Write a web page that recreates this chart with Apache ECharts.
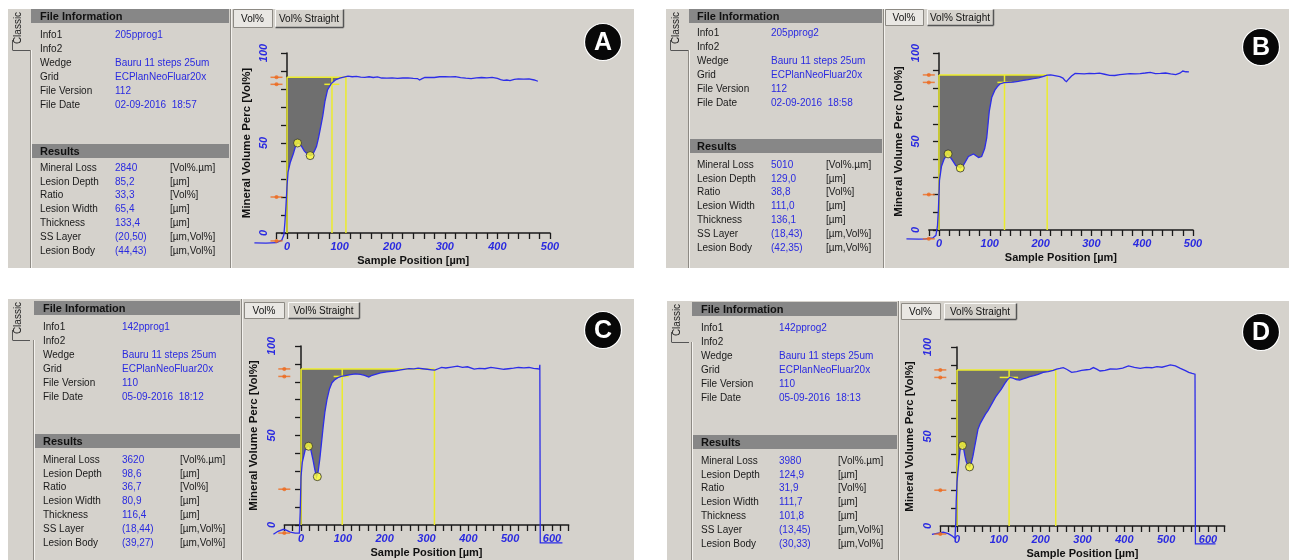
<!DOCTYPE html>
<html>
<head>
<meta charset="utf-8">
<title>Mineral volume profiles</title>
<script src="https://cdn.jsdelivr.net/npm/echarts@6/dist/echarts.min.js"></script>
<style>
  html, body { margin: 0; padding: 0; background: #fff; }
  #main { width: 1289px; height: 560px; }
</style>
</head>
<body>
<div id="main"></div>
<script>
// profiles: position [µm] / mineral volume [Vol%]
const posA = [-62, -40, -20, -10, -6, -4, -2, 0, 2, 6, 12, 16, 20, 24, 28, 33, 38, 44, 48, 52, 56, 60, 64, 68, 72, 77, 84, 92, 100, 108, 116, 124, 132, 140, 148, 156, 164, 172, 180, 190, 200, 210, 220, 230, 240, 248, 252, 256, 262, 270, 280, 290, 300, 310, 320, 330, 340, 350, 360, 370, 380, 390, 400, 406, 412, 418, 424, 432, 440, 450, 460, 470, 477]
const volA = [-5.5, -5.6, -5.4, -4, -1, 6, 15, 26, 34, 39, 44, 48, 50, 49.5, 48, 45.5, 44, 43, 43.5, 45.5, 48, 53, 59, 65, 73, 79.5, 83, 85, 86, 86.6, 87.2, 86.8, 87, 86.6, 86.5, 86.8, 86.4, 86.7, 86.1, 86, 86.2, 85.9, 86.1, 86.2, 85.9, 85.8, 85, 85.6, 86.4, 86.5, 86.4, 86.8, 86.9, 86.7, 86.9, 86.3, 86, 85.8, 86.2, 86.4, 86.2, 86.5, 85.9, 85.2, 84.8, 85, 84.7, 85.4, 85.6, 85.5, 85.6, 85, 84.3]

const posB = [-64, -40, -26, -12, -6, -3, -1, 1, 5, 10, 17, 25, 33, 42, 48, 58, 68, 78, 84, 90, 94, 99, 104, 110, 115, 120, 128, 136, 146, 156, 166, 176, 186, 196, 206, 213, 220, 228, 238, 244, 248, 251, 255, 261, 268, 276, 286, 296, 306, 316, 326, 336, 346, 356, 366, 376, 386, 396, 406, 416, 426, 436, 446, 456, 466, 474, 480, 486, 492]
const volB = [-5, -5.2, -5, -4.5, -3, 2, 12, 28, 36, 40, 43, 40, 36.5, 35, 36.5, 41.5, 43, 41, 41.5, 46, 52, 67, 75, 79, 81, 82.5, 83.3, 83.4, 83.6, 84, 84.5, 85, 85.5, 86, 86.8, 87.5, 87.6, 87.2, 86.6, 85.8, 84.5, 83.8, 85.2, 87, 88.5, 88.4, 88.2, 88.5, 88.3, 88.6, 88, 87.4, 87.3, 87.8, 88.1, 88.4, 88.2, 88.4, 88.7, 89.1, 88.4, 88.5, 88.7, 88.2, 87.8, 88.6, 89.8, 89.4, 89.3]

const posC = [-66, -55, -42, -34, -26, -14, -4, -2, 0, 3, 10, 17, 23, 29, 33, 37, 41, 45, 49, 53, 57, 62, 68, 74, 80, 88, 96, 106, 118, 130, 142, 152, 158, 162, 168, 178, 190, 205, 222, 235, 246, 258, 270, 280, 290, 302, 312, 320, 328, 336, 346, 360, 374, 386, 398, 414, 426, 440, 454, 470, 485, 496, 508, 520, 533, 545, 556, 566, 570, 571, 572, 625]
const volC = [-5.2, -3.5, -2.4, -3, -4, -4.5, -4.5, 7, 27, 35, 42, 44.5, 42.5, 36, 31, 27, 30, 37, 46, 55, 63, 70, 76, 79.5, 81, 82.3, 83, 83.5, 84, 84.4, 84.2, 83.6, 83, 82.6, 83.4, 84.1, 85, 85.5, 86, 86.5, 87, 87.4, 87.2, 87.6, 87.3, 87, 86.7, 86.5, 87.3, 88, 87.7, 88.2, 88.7, 88.1, 88.4, 87.1, 87.5, 87.3, 88, 87.5, 87, 87.3, 87.6, 88, 87.8, 88, 87.5, 87.3, 87, 89.5, -10, -10]

const posD = [-60, -45, -33, -21, -12, -5, -3, -2, 0, 4, 7, 10, 13, 16, 19, 22, 26, 30, 34, 38, 42, 46, 50, 56, 62, 68, 74, 80, 86, 92, 98, 106, 114, 120, 126, 134, 142, 150, 158, 166, 174, 184, 194, 206, 218, 230, 238, 246, 254, 262, 274, 286, 298, 310, 318, 326, 334, 342, 354, 366, 382, 396, 410, 424, 438, 452, 466, 478, 490, 502, 510, 522, 534, 546, 554, 562, 569, 570, 618]
const volD = [-4.7, -4, -3.5, -4.3, -5.5, -6.9, 2, 13.6, 24.8, 35, 42, 44.5, 45, 43, 39, 36, 34, 33, 35, 39, 44, 49, 54, 57.5, 60, 62.5, 64.5, 67, 69.5, 72, 74, 76.5, 79.5, 81.5, 83, 82.6, 81.8, 81.5, 82.2, 82.8, 83.4, 84, 84.7, 85.8, 86.3, 87, 87.7, 88, 88.5, 87.6, 85.8, 86.3, 86.9, 87.3, 87.5, 88.5, 87.6, 86.6, 87, 87.7, 87.6, 88.2, 89.4, 88.6, 88.1, 88.6, 88.4, 89, 88.7, 89.5, 90, 89.5, 88.1, 86.8, 85.8, 85.2, 84.8, -10, -10]

// reference level, lesion limits [start, depth, end], short depth mark [from, to, level]
const topA = 86.5, limitsA = [0, 85.5, 112], depthMarkA = [71, 99.5, 82.6]
const topB = 87.6, limitsB = [0, 129, 213], depthMarkB = [115, 143, 83.4]
const topC = 87.2, limitsC = [0, 98.5, 319], depthMarkC = [78, 114, 83]
const topD = 87.2, limitsD = [0, 124.5, 236], depthMarkD = [102, 146, 83]

// orange calibration marks on the y axis
const refA = [86.5, 82.6, 20, -4.4]
const refB = [87.6, 83.4, 20, -5]
const refC = [87.2, 83, 20, -4.5]
const refD = [87.2, 83, 20, -4.5]

// SS layer and lesion body points (µm, Vol%)
const ssLayerA = [20, 50], lesionBodyA = [44, 43]
const ssLayerB = [18, 43], lesionBodyB = [42, 35]
const ssLayerC = [18, 44], lesionBodyC = [39, 27]
const ssLayerD = [13, 45], lesionBodyD = [30, 33]

// file information / results tables
const infoLabels = ['Info1', 'Info2', 'Wedge', 'Grid', 'File Version', 'File Date']
const resultLabels = ['Mineral Loss', 'Lesion Depth', 'Ratio', 'Lesion Width', 'Thickness', 'SS Layer', 'Lesion Body']
const resultUnits = ['[Vol%.µm]', '[µm]', '[Vol%]', '[µm]', '[µm]', '[µm,Vol%]', '[µm,Vol%]']
const infoA = ['205pprog1', '', 'Bauru 11 steps 25um', 'ECPlanNeoFluar20x', '112', '02-09-2016  18:57']
const infoB = ['205pprog2', '', 'Bauru 11 steps 25um', 'ECPlanNeoFluar20x', '112', '02-09-2016  18:58']
const infoC = ['142pprog1', '', 'Bauru 11 steps 25um', 'ECPlanNeoFluar20x', '110', '05-09-2016  18:12']
const infoD = ['142pprog2', '', 'Bauru 11 steps 25um', 'ECPlanNeoFluar20x', '110', '05-09-2016  18:13']
const resultsA = ['2840', '85,2', '33,3', '65,4', '133,4', '(20,50)', '(44,43)']
const resultsB = ['5010', '129,0', '38,8', '111,0', '136,1', '(18,43)', '(42,35)']
const resultsC = ['3620', '98,6', '36,7', '80,9', '116,4', '(18,44)', '(39,27)']
const resultsD = ['3980', '124,9', '31,9', '111,7', '101,8', '(13,45)', '(30,33)']

const FONT = '"Liberation Sans", Arial, sans-serif'
const BLUE = '#2a2ae0'
const PANEL = '#d5d2cc'

// screen layout of the four windows
const panels = [
  { letter: 'A', pos: posA, vol: volA, top: topA, limits: limitsA, mark: depthMarkA, ref: refA, pts: [ssLayerA, lesionBodyA], info: infoA, res: resultsA,
    rect: [8, 9, 626, 259], hdr: [31, 229], hdr1: 9, hdr2: 144, rowInfo: 35, rowRes: 168, lab: 40, val: 115, unit: 170, sep: 230,
    btn1: [233, 9, 39, 18], btn2: [275, 9, 68, 18], badge: [603, 42],
    grid: { left: 276.5, top: 53, width: 273.5, height: 180 }, xMin: -20, xMax: 500 },
  { letter: 'B', pos: posB, vol: volB, top: topB, limits: limitsB, mark: depthMarkB, ref: refB, pts: [ssLayerB, lesionBodyB], info: infoB, res: resultsB,
    rect: [666, 9, 623, 259], hdr: [689, 882], hdr1: 9, hdr2: 139, rowInfo: 33, rowRes: 165, lab: 697, val: 771, unit: 826, sep: 883,
    btn1: [885, 9, 38, 16], btn2: [927, 9, 66, 16], badge: [1261, 47],
    grid: { left: 928.8, top: 53, width: 264.2, height: 177 }, xMin: -20, xMax: 500 },
  { letter: 'C', pos: posC, vol: volC, top: topC, limits: limitsC, mark: depthMarkC, ref: refC, pts: [ssLayerC, lesionBodyC], info: infoC, res: resultsC,
    rect: [8, 299, 626, 261], hdr: [34, 240], hdr1: 301, hdr2: 434, rowInfo: 327, rowRes: 460, lab: 43, val: 122, unit: 180, sep: 241,
    btn1: [244, 302, 40, 16], btn2: [288, 302, 71, 16], badge: [603, 330],
    grid: { left: 284.3, top: 346, width: 284.4, height: 179 }, xMin: -40, xMax: 640 },
  { letter: 'D', pos: posD, vol: volD, top: topD, limits: limitsD, mark: depthMarkD, ref: refD, pts: [ssLayerD, lesionBodyD], info: infoD, res: resultsD,
    rect: [667, 301, 622, 259], hdr: [692, 897], hdr1: 302, hdr2: 435, rowInfo: 328, rowRes: 461, lab: 701, val: 779, unit: 838, sep: 898,
    btn1: [901, 303, 39, 16], btn2: [944, 303, 72, 16], badge: [1261, 332],
    grid: { left: 940.3, top: 347, width: 284.4, height: 179 }, xMin: -40, xMax: 640 }
]

function txt(x, y, text, font, fill, align, rot) {
  return { type: 'text', z: 5, x: x, y: y, rotation: rot || 0,
    style: { text: text, font: font, fill: fill, align: align || 'left', verticalAlign: 'middle' } }
}
function ln(x1, y1, x2, y2, stroke, w) {
  return { type: 'line', z: 2, shape: { x1: x1, y1: y1, x2: x2, y2: y2 }, style: { stroke: stroke, lineWidth: w || 1 } }
}

function windowGraphics(p) {
  const [px, py, pw, ph] = p.rect
  const el = []
  el.push({ type: 'rect', z: -10, shape: { x: px, y: py, width: pw, height: ph }, style: { fill: PANEL } })
  // Classic tab
  el.push(txt(px + 10, py + 19, 'Classic', '10px ' + FONT, '#222', 'center', Math.PI / 2))
  el.push(ln(px + 4.5, py + 31, px + 4.5, py + 41, '#555'))
  el.push(ln(px + 4.5, py + 41.5, px + 22, py + 41.5, '#555'))
  el.push(ln(p.hdr[0] - 0.5, py + 41, p.hdr[0] - 0.5, py + ph, '#8d8a84'))
  el.push(ln(p.hdr[0] + 0.5, py + 41, p.hdr[0] + 0.5, py + ph, '#f4f2ee'))
  // separator between table and plot
  el.push(ln(p.sep + 0.5, py, p.sep + 0.5, py + ph, '#8d8a84'))
  el.push(ln(p.sep + 1.5, py, p.sep + 1.5, py + ph, '#f4f2ee'))
  // header bars
  ;[[p.hdr1, 'File Information'], [p.hdr2, 'Results']].forEach(function (h) {
    el.push({ type: 'rect', z: 1, shape: { x: p.hdr[0], y: h[0], width: p.hdr[1] - p.hdr[0], height: 14 }, style: { fill: '#878787' } })
    el.push(txt(p.lab, h[0] + 7.5, h[1], 'bold 11px ' + FONT, '#111'))
  })
  infoLabels.forEach(function (l, i) {
    el.push(txt(p.lab, p.rowInfo + i * 14, l, '10px ' + FONT, '#1a1a1a'))
    if (p.info[i]) el.push(txt(p.val, p.rowInfo + i * 14, p.info[i], '10px ' + FONT, BLUE))
  })
  resultLabels.forEach(function (l, i) {
    const y = p.rowRes + i * 13.8
    el.push(txt(p.lab, y, l, '10px ' + FONT, '#1a1a1a'))
    el.push(txt(p.val, y, p.res[i], '10px ' + FONT, BLUE))
    el.push(txt(p.unit, y, resultUnits[i], '10px ' + FONT, '#1a1a1a'))
  })
  // buttons
  const b1 = p.btn1, b2 = p.btn2
  el.push({ type: 'rect', z: 1, shape: { x: b1[0] + 0.5, y: b1[1] + 0.5, width: b1[2], height: b1[3] }, style: { fill: '#e9e7e3', stroke: '#8d8a84', lineWidth: 1 } })
  el.push(txt(b1[0] + b1[2] / 2, b1[1] + b1[3] / 2 + 1, 'Vol%', '10px ' + FONT, '#111', 'center'))
  el.push({ type: 'rect', z: 1, shape: { x: b2[0] + 0.5, y: b2[1] + 0.5, width: b2[2], height: b2[3] }, style: { fill: PANEL, stroke: '#fbfaf8', lineWidth: 1 } })
  el.push(ln(b2[0] + 0.5, b2[1] + b2[3] + 0.5, b2[0] + b2[2] + 0.5, b2[1] + b2[3] + 0.5, '#555', 1.5))
  el.push(ln(b2[0] + b2[2] + 0.5, b2[1] + 0.5, b2[0] + b2[2] + 0.5, b2[1] + b2[3] + 0.5, '#555', 1.5))
  el.push(txt(b2[0] + b2[2] / 2, b2[1] + b2[3] / 2 + 1, 'Vol% Straight', '10px ' + FONT, '#111', 'center'))
  // panel letter
  el.push({ type: 'circle', z: 20, shape: { cx: p.badge[0], cy: p.badge[1], r: 18.5 }, style: { fill: '#080808', stroke: '#ffffff', lineWidth: 1.2 } })
  el.push(Object.assign(txt(p.badge[0], p.badge[1] + 1, p.letter, 'bold 25px ' + FONT, '#ffffff', 'center'), { z: 21 }))
  return el
}

const graphicEls = []
panels.forEach(function (p) { graphicEls.push.apply(graphicEls, windowGraphics(p)) })

const grids = [], xAxes = [], yAxes = [], series = []
panels.forEach(function (p, i) {
  grids.push(Object.assign({ containLabel: false, outerBoundsMode: 'none' }, p.grid))
  xAxes.push({
    gridIndex: i, type: 'value', min: p.xMin, max: p.xMax, interval: 20,
    name: 'Sample Position [µm]', nameLocation: 'middle', nameGap: 22,
    nameTextStyle: { fontFamily: FONT, fontWeight: 'bold', fontSize: 11, color: '#111' },
    axisLine: { onZero: false, lineStyle: { color: '#1a1a1a', width: 1.5 } },
    axisTick: { length: 6, lineStyle: { color: '#1a1a1a', width: 1.3 } },
    axisLabel: { margin: 8, color: BLUE, fontFamily: FONT, fontWeight: 'bold', fontStyle: 'italic', fontSize: 11,
      formatter: function (v) { return v >= 0 && v % 100 === 0 ? String(v) : '' } },
    splitLine: { show: false }
  })
  yAxes.push({
    gridIndex: i, type: 'value', min: 0, max: 100, interval: 10,
    name: 'Mineral Volume Perc [Vol%]', nameLocation: 'middle', nameGap: 24,
    nameTextStyle: { fontFamily: FONT, fontWeight: 'bold', fontSize: 11.5, color: '#111' },
    axisLine: { lineStyle: { color: '#1a1a1a', width: 1.5 } },
    axisTick: { length: 6, lineStyle: { color: '#1a1a1a', width: 1.3 } },
    axisLabel: { rotate: 90, margin: 7, color: BLUE, fontFamily: FONT, fontWeight: 'bold', fontStyle: 'italic', fontSize: 11,
      formatter: function (v) { return v % 50 === 0 ? String(v) : '' } },
    splitLine: { show: false }
  })

  const xEnd = p.limits[2]
  // shaded mineral loss area between reference level and profile
  series.push({
    type: 'custom', xAxisIndex: i, yAxisIndex: i, z: 1, silent: true, clip: false,
    data: [[0, p.top]],
    renderItem: function (params, api) {
      const pts = [api.coord([0, p.top])]
      p.pos.forEach(function (x, k) {
        if (x >= 0 && x <= xEnd) pts.push(api.coord([x, Math.min(p.vol[k], p.top)]))
      })
      pts.push(api.coord([xEnd, p.top]))
      return { type: 'polygon', shape: { points: pts }, style: { fill: '#6f6f6f' } }
    }
  })
  // yellow lesion limits
  const segs = [[0, p.top, xEnd, p.top]]
  p.limits.forEach(function (x) { segs.push([x, 0, x, p.top]) })
  segs.push([p.mark[0], p.mark[2], p.mark[1], p.mark[2]])
  series.push({
    type: 'custom', xAxisIndex: i, yAxisIndex: i, z: 2, silent: true, clip: false,
    data: segs, encode: { x: [0, 2], y: [1, 3] },
    renderItem: function (params, api) {
      const a = api.coord([api.value(0), api.value(1)])
      const b = api.coord([api.value(2), api.value(3)])
      return { type: 'line', shape: { x1: a[0], y1: a[1], x2: b[0], y2: b[1] }, style: { stroke: '#ecec2c', lineWidth: 1.5 } }
    }
  })
  // profile (drawn unclipped: it runs left of the y axis and below zero)
  series.push({
    type: 'custom', xAxisIndex: i, yAxisIndex: i, z: 3, silent: true, clip: false,
    data: p.pos.map(function (x, k) { return [x, p.vol[k]] }),
    renderItem: function (params, api) {
      if (params.dataIndex !== 0) return null
      const pts = p.pos.map(function (x, k) { return api.coord([x, p.vol[k]]) })
      return { type: 'polyline', shape: { points: pts }, style: { stroke: '#2d2de8', lineWidth: 1.3, fill: null } }
    }
  })
  // orange calibration marks
  series.push({
    type: 'scatter', xAxisIndex: i, yAxisIndex: i, z: 4, clip: false, silent: true,
    symbol: 'rect', symbolSize: [12, 1.5], itemStyle: { color: '#ee6a1e' },
    data: p.ref.map(function (v) { return [p.xMin, v] })
  })
  series.push({
    type: 'scatter', xAxisIndex: i, yAxisIndex: i, z: 4, clip: false, silent: true,
    symbol: 'circle', symbolSize: 4, itemStyle: { color: '#ee6a1e' },
    data: p.ref.map(function (v) { return [p.xMin, v] })
  })
  // SS layer / lesion body
  series.push({
    type: 'scatter', xAxisIndex: i, yAxisIndex: i, z: 5, clip: false, silent: true,
    symbol: 'circle', symbolSize: 8, itemStyle: { color: '#ffff30', borderColor: '#333', borderWidth: 1 },
    data: p.pts
  })
})

const chart = echarts.init(document.getElementById('main'), null, { renderer: 'canvas' })
chart.setOption({
  animation: false,
  backgroundColor: '#ffffff',
  graphic: { elements: graphicEls },
  grid: grids,
  xAxis: xAxes,
  yAxis: yAxes,
  series: series
})
</script>
</body>
</html>
